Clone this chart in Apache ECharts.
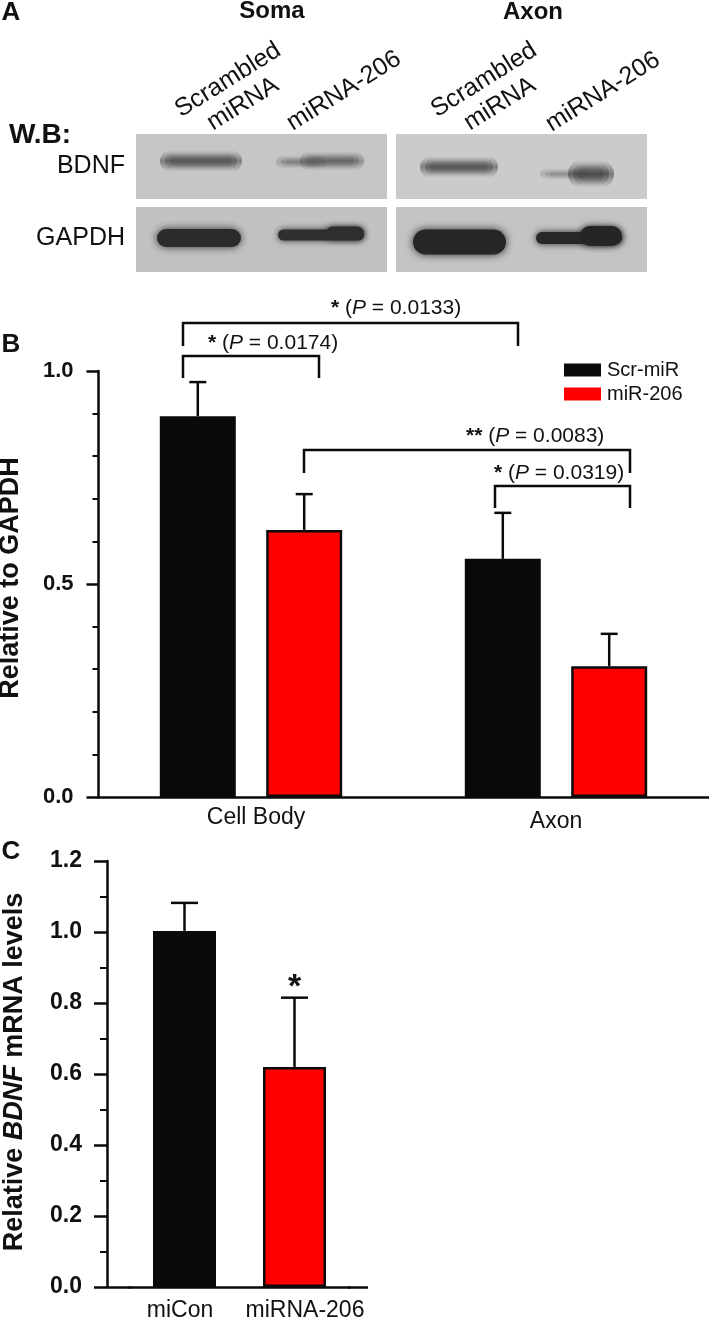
<!DOCTYPE html>
<html>
<head>
<meta charset="utf-8">
<style>html,body{margin:0;padding:0;background:#fff}#c{width:709px;height:1317px}</style>
<script src="https://cdn.jsdelivr.net/npm/echarts@6/dist/echarts.min.js"></script>
</head>
<body>
<div id="c"></div>
<script>
// Panel B data
const bCategories = ['Cell Body', 'Axon'];
const bScr = [0.894, 0.559];
const bMir = [0.627, 0.307];
const bScrErrTop = [0.974, 0.667];
const bMirErrTop = [0.711, 0.383];
// Panel C data
const cCategories = ['miCon', 'miRNA-206'];
const cValues = [1.003, 0.62];
const cErrTop = [1.082, 0.815];

const FF = '"Liberation Sans", Arial, sans-serif';
const chart = echarts.init(document.getElementById('c'), null, {renderer: 'canvas'});
const G = [];
function txt(text, x, y, size, weight, align, rot, rich) {
  const el = {type: 'text', x, y, z: 20, rotation: rot || 0,
    style: {text, fill: '#111', font: `${weight} ${size}px ${FF}`, fontFamily: FF, fontSize: size, fontWeight: weight,
            align: align || 'center', verticalAlign: 'middle', rich}};
  G.push(el);
}
function band(x1, x2, cy, h, color, blur) {
  G.push({type: 'rect', z: 5, shape: {x: x1, y: cy - h / 2, width: x2 - x1, height: h, r: h / 2},
    style: {fill: color, shadowBlur: blur, shadowColor: color}});
}
// soft band: rounded bar fading out vertically, with tiny alpha layers for tapering ends
function soft(x1, x2, cy, h, rgb, a) {
  [[0, 1], [5, 0.8], [10, 0.6]].forEach(([inset, k]) => {
    const hh = h * k;
    G.push({type: 'rect', z: 5, shape: {x: x1 + inset, y: cy - hh / 2, width: x2 - x1 - 2 * inset, height: hh, r: hh / 2},
      style: {opacity: 1, fill: new echarts.graphic.LinearGradient(0, 0, 0, 1, [
        {offset: 0, color: `rgba(${rgb},0)`}, {offset: 0.5, color: `rgba(${rgb},${a})`}, {offset: 1, color: `rgba(${rgb},0)`}])}});
  });
}
function panel(x, y, w, h, c) {
  G.push({type: 'rect', z: 4, shape: {x, y, width: w, height: h}, style: {fill: c}});
}
function bracket(x1, x2, top, leftBot, rightBot) {
  G.push({type: 'polyline', z: 15, shape: {points: [[x1, leftBot], [x1, top], [x2, top], [x2, rightBot]]},
    style: {stroke: '#0a0a0a', lineWidth: 2.5, fill: 'none'}});
}
// Panel A blot
panel(136, 134, 251, 65, '#c6c6c6'); panel(396, 134, 251, 65, '#cbcbcb');
panel(136, 207, 251, 65, '#c2c2c2'); panel(396, 207, 251, 65, '#c4c4c4');
soft(160, 242, 161, 22, '80,80,80', 0.6);
soft(276, 326, 162, 15, '100,100,100', 0.35); soft(300, 364, 161, 20, '90,90,90', 0.5);
soft(420, 498, 167, 22, '80,80,80', 0.6);
soft(540, 590, 174, 13, '110,110,110', 0.3); soft(568, 614, 174, 28, '70,70,70', 0.62);
band(157, 241, 238, 18, '#2b2b2b', 8); band(278, 364, 235, 11, '#2f2f2f', 7); band(326, 364, 233, 13, '#2f2f2f', 6);
band(413, 506, 242, 25, '#262626', 8); band(536, 622, 238, 12, '#282828', 7); band(580, 622, 236, 20, '#252525', 7);
const ang = 32 * Math.PI / 180;
txt('A', 11, 13, 26, 'bold');
txt('Soma', 272, 11, 24, 'bold');
txt('Axon', 533, 12, 24, 'bold');
txt('W.B:', 40, 135, 28, 'bold');
txt('BDNF', 125, 166, 25, 'normal', 'right');
txt('GAPDH', 125, 238, 25, 'normal', 'right');
txt('Scrambled', 228, 80, 25, 'normal', 'center', ang);
txt('miRNA', 243, 104, 25, 'normal', 'center', ang);
txt('miRNA-206', 344, 91, 25, 'normal', 'center', ang);
txt('Scrambled', 484, 80, 25, 'normal', 'center', ang);
txt('miRNA', 500, 104, 25, 'normal', 'center', ang);
txt('miRNA-206', 603, 92, 25, 'normal', 'center', ang);
// Panel letters
txt('B', 11, 345, 26, 'bold');
txt('C', 11, 852, 26, 'bold');
// Brackets and significance
const sigRich = {s: {font: `bold 21px ${FF}`, fill: '#111'}, i: {font: `italic 21px ${FF}`, fill: '#111'}, n: {font: `21px ${FF}`, fill: '#111'}};
bracket(183, 518, 323, 346, 346);
bracket(183, 319, 356, 378, 378);
bracket(304, 630, 450, 473, 473);
bracket(495, 630, 486, 508, 508);
function sig(stars, p, x, y) { txt(`{s|${stars}}{n| (}{i|P}{n| = ${p})}`, x, y, 21, 'normal', 'left', 0, sigRich); }
sig('*', '0.0133', 331, 308);
sig('*', '0.0174', 208, 343);
sig('**', '0.0083', 466, 436);
sig('*', '0.0319', 494, 473);
txt('*', 294.5, 988, 34, 'bold');
// Panel C baseline extends past the category band
G.push({type: 'line', z: 15, shape: {x1: 107, y1: 1287.5, x2: 131, y2: 1287.5}, style: {stroke: '#0a0a0a', lineWidth: 2.5}});
G.push({type: 'line', z: 15, shape: {x1: 348, y1: 1287.5, x2: 368, y2: 1287.5}, style: {stroke: '#0a0a0a', lineWidth: 2.5}});

const axisLine = {show: true, onZero: false, lineStyle: {color: '#0a0a0a', width: 2.5}};
const BLK = '#0a0a0a', RED = '#ff0000';
function errSeries(name, xi, yi, lows, tops, off, cap) {
  return {type: 'custom', name, xAxisIndex: xi, yAxisIndex: yi, z: 6, silent: true,
    data: tops.map((t, i) => [i, lows[i], t]),
    encode: {x: 0, y: [1, 2]},
    renderItem(params, api) {
      const base = api.coord([api.value(0), api.value(1)]);
      const top = api.coord([api.value(0), api.value(2)]);
      const x = base[0] + off;
      const st = {stroke: BLK, lineWidth: 2.5};
      return {type: 'group', children: [
        {type: 'line', shape: {x1: x, y1: base[1], x2: x, y2: top[1]}, style: st},
        {type: 'line', shape: {x1: x - cap / 2, y1: top[1], x2: x + cap / 2, y2: top[1]}, style: st}
      ]};
    }};
}
const yLabB = {color: '#111', fontFamily: FF, fontWeight: 'bold', fontSize: 22, margin: 25, padding: [4, 0, 0, 0], formatter: v => v.toFixed(1)};
const yLabC = {color: '#111', fontFamily: FF, fontWeight: 'bold', fontSize: 23, margin: 25, padding: [4, 0, 0, 0], formatter: v => v.toFixed(1)};
chart.setOption({
  animation: false, backgroundColor: '#fff',
  textStyle: {fontFamily: FF},
  grid: [
    {left: 98.5, top: 371, width: 610, height: 426, containLabel: false, outerBoundsMode: 'none'},
    {left: 129.5, top: 861, width: 220, height: 426, containLabel: false, outerBoundsMode: 'none'}
  ],
  legend: {left: 559, top: 355, orient: 'vertical', itemWidth: 37, itemHeight: 13, itemGap: 4,
    icon: 'rect', textStyle: {fontSize: 20, color: '#111', fontFamily: FF, padding: [0, 0, 0, 1]},
    data: [{name: 'Scr-miR', itemStyle: {borderWidth: 0, color: BLK}}, {name: 'miR-206', itemStyle: {borderWidth: 0, color: RED}}]},
  xAxis: [
    {type: 'category', gridIndex: 0, data: bCategories, axisTick: {show: false}, axisLine,
     axisLabel: {margin: 9, color: '#111', interval: 0, formatter: v => v === 'Axon' ? `{b|${v}}` : `{a|${v}}`,
       rich: {a: {fontSize: 23, fontFamily: FF, color: '#111', padding: [0, 0, 0, 10]}, b: {fontSize: 23, fontFamily: FF, color: '#111', padding: [4, 0, 0, 0]}}}},
    {type: 'category', gridIndex: 1, data: cCategories, axisTick: {show: false}, axisLine,
     axisLabel: {margin: 12, color: '#111', interval: 0, formatter: v => v === 'miCon' ? `{a|${v}}` : `{b|${v}}`,
       rich: {a: {fontSize: 23, fontFamily: FF, color: '#111', padding: [0, 9, 0, 0]}, b: {fontSize: 23, fontFamily: FF, color: '#111', padding: [0, 0, 0, 21]}}}}
  ],
  yAxis: [
    {type: 'value', gridIndex: 0, min: 0, max: 1, interval: 0.5, splitLine: {show: false}, axisLine,
     axisTick: {show: true, length: 12, lineStyle: {color: BLK, width: 2.5}},
     minorTick: {show: true, splitNumber: 5, length: 6, lineStyle: {color: BLK, width: 2}}, minorSplitLine: {show: false},
     axisLabel: yLabB,
     name: 'Relative to GAPDH', nameLocation: 'middle', nameGap: 74, nameRotate: 90,
     nameTextStyle: {fontFamily: FF, fontWeight: 'bold', fontSize: 27, color: '#111', padding: [0, 0, 0, 12]}},
    {type: 'value', gridIndex: 1, min: 0, max: 1.2, interval: 0.2, offset: 22.5, splitLine: {show: false}, axisLine,
     axisTick: {show: true, length: 13, lineStyle: {color: BLK, width: 2.5}},
     minorTick: {show: true, splitNumber: 2, length: 7, lineStyle: {color: BLK, width: 2}}, minorSplitLine: {show: false},
     axisLabel: yLabC,
     name: 'Relative {i|BDNF} mRNA levels', nameLocation: 'middle', nameGap: 79, nameRotate: 90,
     nameTextStyle: {fontFamily: FF, fontWeight: 'bold', fontSize: 27, color: '#111', padding: [0, 0, 0, 4],
       rich: {i: {fontFamily: FF, fontWeight: 'bold', fontStyle: 'italic', fontSize: 27, color: '#111'}}}}
  ],
  series: [
    {type: 'bar', name: 'Scr-miR', xAxisIndex: 0, yAxisIndex: 0, data: bScr, barWidth: 76, barGap: '40%', z: 5,
     itemStyle: {color: BLK, borderColor: BLK, borderWidth: 0}},
    {type: 'bar', name: 'miR-206', xAxisIndex: 0, yAxisIndex: 0, data: bMir, barWidth: 76, barGap: '40%', z: 5,
     itemStyle: {color: RED, borderColor: BLK, borderWidth: 2.5}},
    errSeries('Scr-err', 0, 0, bScr, bScrErrTop, -53.2, 17),
    errSeries('Mir-err', 0, 0, bMir, bMirErrTop, 53.2, 17),
    {type: 'bar', name: 'panelC', xAxisIndex: 1, yAxisIndex: 1, barWidth: 63, z: 5,
     data: [{value: cValues[0], itemStyle: {color: BLK, borderColor: BLK, borderWidth: 0}},
            {value: cValues[1], itemStyle: {color: RED, borderColor: BLK, borderWidth: 2.5}}]},
    errSeries('C-err', 1, 1, cValues, cErrTop, 0, 27)
  ],
  graphic: {elements: G}
});
</script>
</body>
</html>
